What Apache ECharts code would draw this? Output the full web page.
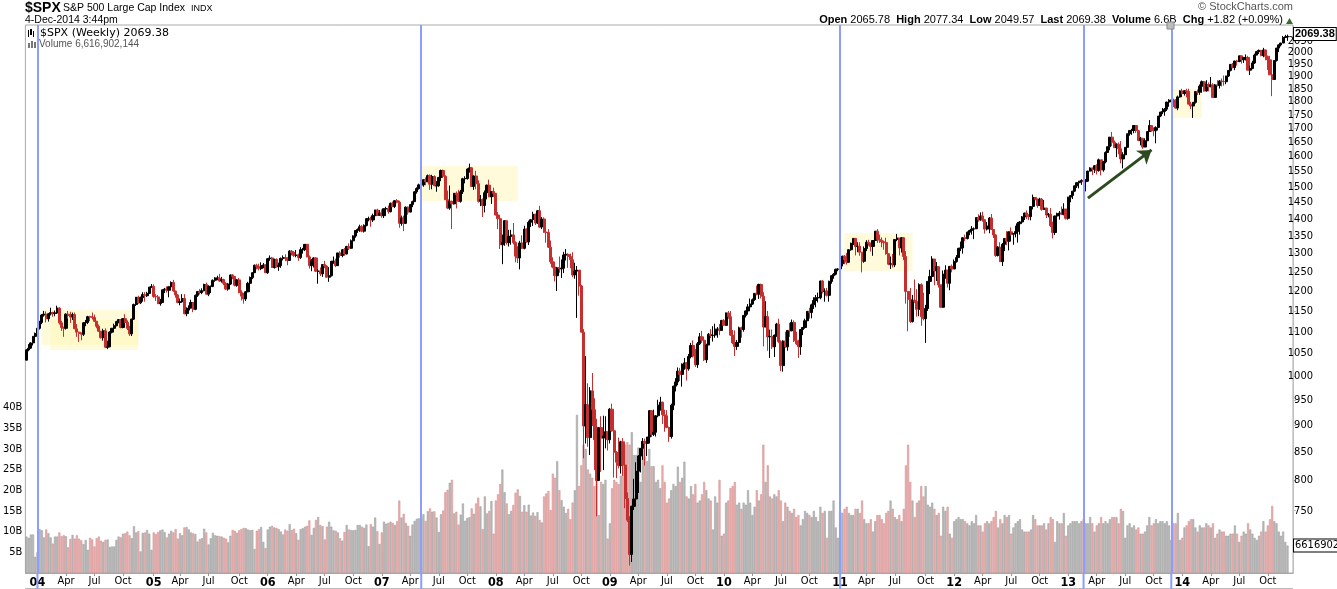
<!DOCTYPE html>
<html><head><meta charset="utf-8"><title>$SPX Weekly</title>
<script src="https://cdn.jsdelivr.net/npm/echarts@6/dist/echarts.min.js"></script>
<style>html,body{margin:0;padding:0;background:#fff;overflow:hidden}#chart{width:1337px;height:589px}</style>
</head><body><div id="chart"></div>
<script>
// ---------------- DATA (weekly, first week starts Monday 2003-11-24) ----------------
const firstWeekMonday = '2003-11-24';

const openP = [
1035,1058,1062,1074,1089,
1096,1108,1122,1140,1142,1131,1143,1146,1144,1145,1157,1121,1110,1108,1142,1139,1135,1141,1107,1099,1096,1094,1121,1122,1136,1135,1134,1125,1113,1101,1086,1102,1064,1065,1099,1108,1114,1124,1129,1110,1131,1122,1108,1095,1130,1166,1184,1170,1183,1191,1188,1194,1210,
1212,1186,1185,1168,1171,1203,1205,1202,1211,1222,1200,1190,1171,1173,1181,1143,1152,1157,1171,1154,1189,1199,1196,1201,1217,1192,1212,1212,1228,1234,1234,1226,1230,1220,1205,1218,1242,1238,1215,1229,1196,1187,1180,1198,1220,1235,1248,1268,1265,1259,1267,1269,
1248,1286,1288,1262,1284,1264,1267,1287,1289,1287,1281,1307,1303,1295,1296,1289,1311,1311,1326,1291,1267,1280,1288,1252,1252,1245,1270,1266,1236,1240,1279,1279,1267,1302,1295,1311,1299,1320,1315,1336,1350,1366,1369,1377,1364,1381,1401,1401,1397,1410,1427,1411,
1418,1410,1431,1431,1422,1448,1438,1456,1451,1387,1403,1387,1436,1421,1444,1453,1484,1494,1506,1506,1523,1516,1536,1508,1533,1503,1503,1530,1553,1534,1459,1433,1454,1446,1479,1474,1454,1484,1526,1527,1558,1562,1501,1535,1510,1454,1459,1441,1481,1505,1468,1485,
1479,1412,1401,1325,1331,1395,1331,1349,1353,1331,1293,1288,1330,1315,1370,1333,1390,1398,1414,1388,1425,1376,1400,1361,1360,1318,1278,1263,1240,1261,1258,1260,1296,1298,1292,1283,1242,1252,1255,1213,1099,899,941,877,969,931,873,800,896,876,880,888,
873,932,890,850,832,826,869,827,770,735,683,757,769,816,843,857,870,866,878,929,883,887,919,940,946,921,919,896,879,940,979,988,1011,1004,1026,1029,1016,1043,1068,1044,1025,1072,1088,1080,1036,1069,1094,1091,1092,1106,1106,1103,
1127,1115,1145,1136,1092,1074,1066,1075,1109,1105,1139,1150,1160,1167,1178,1194,1192,1217,1187,1111,1136,1088,1089,1065,1092,1118,1077,1023,1078,1065,1103,1102,1122,1079,1072,1065,1105,1110,1126,1149,1146,1165,1176,1183,1183,1226,1199,1200,1189,1225,1240,1244,1257,
1258,1272,1293,1283,1276,1311,1329,1343,1320,1321,1304,1279,1314,1332,1328,1320,1337,1364,1340,1338,1333,1331,1300,1271,1272,1269,1340,1344,1316,1345,1292,1199,1179,1124,1177,1174,1154,1216,1136,1131,1156,1225,1238,1285,1253,1264,1216,1159,1244,1255,1220,1265,
1258,1278,1289,1315,1316,1345,1343,1361,1366,1370,1371,1404,1397,1409,1398,1370,1379,1403,1369,1353,1295,1318,1278,1326,1343,1335,1362,1355,1357,1363,1386,1391,1406,1418,1411,1407,1438,1466,1460,1441,1461,1429,1433,1412,1414,1380,1360,1409,1416,1418,1414,1430,
1402,1467,1472,1486,1503,1513,1518,1520,1516,1518,1551,1561,1557,1569,1553,1589,1555,1582,1614,1634,1668,1650,1631,1643,1627,1592,1606,1632,1680,1692,1692,1710,1691,1656,1664,1633,1655,1688,1710,1692,1691,1703,1745,1760,1762,1771,1798,1805,1806,1805,1775,1818,
1841,1831,1842,1839,1790,1783,1797,1839,1836,1860,1878,1841,1867,1858,1865,1816,1865,1863,1881,1879,1878,1901,1924,1949,1936,1963,1961,1985,1968,1978,1978,1925,1932,1955,1988,2003,2008,1986,2010,1983,1968,1906,1887,1965,2018,2032,2040,2064,2068
];

const highP = [
1060,1071,1075,1090,1098,
1112,1126,1142,1150,1149,1145,1158,1148,1151,1163,1159,1126,1112,1144,1150,1148,1146,1146,1118,1100,1098,1123,1128,1138,1138,1146,1141,1125,1117,1102,1107,1108,1079,1101,1109,1119,1126,1130,1130,1132,1142,1127,1114,1131,1168,1185,1188,1186,1197,1197,1198,1211,1218,
1217,1192,1190,1180,1204,1208,1212,1212,1225,1229,1201,1192,1181,1192,1192,1159,1164,1178,1172,1191,1200,1205,1207,1219,1222,1215,1214,1230,1236,1240,1245,1237,1232,1223,1220,1243,1244,1239,1231,1234,1202,1195,1200,1224,1238,1250,1270,1272,1272,1276,1274,1271,
1287,1295,1291,1286,1287,1275,1289,1295,1298,1290,1310,1310,1307,1310,1300,1318,1316,1327,1326,1295,1285,1290,1290,1258,1262,1271,1280,1268,1263,1280,1292,1286,1302,1307,1312,1316,1322,1329,1340,1352,1367,1372,1383,1382,1384,1403,1407,1407,1416,1428,1431,1427,
1429,1432,1437,1441,1450,1453,1457,1461,1456,1410,1410,1438,1438,1446,1456,1485,1498,1510,1513,1523,1530,1540,1540,1539,1537,1518,1532,1556,1556,1537,1488,1504,1456,1480,1485,1490,1490,1529,1534,1560,1576,1564,1537,1552,1521,1474,1463,1488,1507,1523,1486,1497,
1472,1421,1406,1354,1396,1396,1368,1368,1388,1335,1321,1336,1352,1380,1372,1395,1400,1422,1416,1427,1440,1406,1405,1379,1370,1337,1290,1278,1263,1292,1284,1305,1313,1301,1300,1304,1275,1266,1255,1216,1106,1044,985,977,1007,954,913,896,918,919,918,880,
934,943,891,852,877,871,876,850,780,741,758,803,832,845,857,876,875,877,930,930,931,920,951,957,947,931,930,898,943,980,996,1019,1018,1028,1040,1031,1049,1074,1080,1060,1076,1097,1102,1085,1072,1097,1106,1113,1119,1111,1118,1128,
1130,1146,1150,1150,1104,1103,1081,1112,1112,1140,1151,1167,1181,1181,1195,1214,1219,1219,1197,1174,1150,1105,1105,1093,1121,1131,1080,1080,1100,1103,1121,1129,1127,1100,1081,1106,1111,1131,1149,1158,1168,1184,1190,1196,1227,1228,1207,1208,1227,1241,1247,1259,1260,
1278,1294,1296,1302,1312,1331,1344,1344,1332,1332,1305,1320,1338,1339,1331,1338,1364,1370,1354,1346,1337,1345,1300,1292,1299,1341,1356,1344,1347,1347,1307,1200,1208,1190,1230,1205,1220,1220,1196,1165,1225,1256,1293,1285,1277,1266,1216,1254,1268,1255,1265,1270,
1284,1296,1316,1334,1346,1354,1363,1368,1379,1375,1405,1414,1420,1422,1398,1391,1406,1415,1370,1355,1321,1332,1330,1343,1364,1363,1375,1358,1380,1391,1394,1409,1419,1426,1414,1438,1475,1466,1463,1465,1464,1458,1434,1418,1433,1392,1410,1419,1424,1438,1448,1430,
1468,1473,1486,1503,1514,1519,1524,1530,1525,1552,1564,1563,1570,1574,1593,1589,1585,1618,1635,1668,1687,1656,1646,1649,1654,1615,1632,1680,1693,1698,1710,1710,1694,1669,1664,1664,1688,1730,1711,1703,1707,1745,1760,1775,1775,1799,1809,1814,1811,1809,1823,1844,
1850,1844,1850,1850,1799,1798,1841,1847,1867,1883,1879,1884,1875,1897,1872,1869,1884,1885,1891,1903,1902,1924,1950,1955,1964,1968,1985,1986,1979,1991,1985,1943,1964,1994,2006,2012,2010,2019,2011,1986,1985,1912,1966,2019,2034,2041,2071,2076,2077.34
];

const lowP = [
1035,1055,1060,1068,1084,
1093,1105,1118,1136,1122,1124,1139,1136,1137,1143,1117,1102,1088,1105,1131,1121,1128,1106,1088,1076,1080,1090,1113,1118,1125,1129,1123,1108,1100,1084,1079,1062,1060,1064,1096,1101,1113,1120,1108,1108,1120,1104,1090,1090,1128,1162,1168,1167,1173,1173,1185,1193,1208,
1183,1175,1167,1163,1170,1195,1196,1184,1207,1198,1183,1169,1164,1172,1142,1137,1143,1156,1147,1152,1185,1191,1192,1199,1191,1187,1195,1210,1224,1228,1224,1222,1215,1203,1201,1216,1231,1212,1211,1194,1176,1168,1175,1197,1218,1231,1247,1257,1254,1255,1260,1247,
1245,1280,1261,1259,1262,1253,1261,1281,1279,1268,1280,1295,1291,1290,1280,1285,1300,1307,1290,1259,1252,1262,1250,1219,1239,1237,1260,1235,1224,1238,1272,1263,1266,1289,1290,1294,1298,1310,1313,1330,1345,1359,1362,1361,1360,1378,1393,1377,1391,1408,1410,1410,
1404,1403,1423,1416,1420,1436,1433,1448,1374,1380,1364,1385,1413,1420,1436,1452,1478,1491,1490,1500,1505,1515,1490,1492,1502,1484,1500,1518,1529,1458,1430,1428,1370,1444,1432,1452,1450,1477,1511,1523,1546,1500,1490,1492,1450,1439,1406,1420,1460,1467,1446,1467,
1411,1370,1313,1271,1322,1325,1320,1325,1326,1276,1274,1257,1313,1312,1331,1324,1376,1379,1382,1385,1373,1370,1359,1331,1316,1272,1260,1225,1200,1248,1234,1247,1281,1261,1260,1236,1232,1133,1188,1098,839,866,860,845,899,818,741,799,815,818,857,853,
866,888,805,804,821,812,808,754,732,667,672,751,764,779,814,836,826,843,866,878,880,879,916,929,903,888,895,869,875,930,968,981,990,978,1014,991,1012,1039,1041,1020,1018,1069,1074,1033,1029,1069,1085,1077,1086,1086,1092,1103,
1115,1114,1131,1090,1071,1044,1058,1075,1086,1100,1134,1141,1159,1165,1175,1189,1180,1181,1066,1111,1056,1040,1060,1042,1088,1074,1011,1010,1063,1056,1088,1101,1076,1069,1040,1047,1092,1107,1122,1131,1132,1155,1159,1171,1179,1194,1173,1186,1173,1219,1232,1241,1252,
1262,1265,1271,1270,1275,1308,1324,1295,1304,1294,1249,1275,1307,1322,1306,1294,1333,1330,1330,1318,1311,1297,1268,1258,1262,1263,1335,1295,1303,1282,1168,1101,1121,1122,1170,1136,1137,1114,1127,1074,1150,1192,1228,1215,1226,1209,1158,1158,1232,1209,1202,1249,
1258,1275,1290,1307,1300,1335,1340,1352,1354,1341,1370,1392,1395,1392,1357,1366,1358,1368,1344,1291,1292,1277,1266,1307,1324,1309,1351,1325,1346,1331,1354,1390,1397,1400,1397,1396,1429,1457,1434,1441,1425,1428,1403,1405,1376,1343,1353,1385,1398,1412,1411,1398,
1398,1451,1461,1484,1496,1495,1506,1486,1485,1516,1550,1538,1545,1540,1549,1537,1549,1577,1614,1622,1636,1630,1598,1608,1577,1560,1601,1632,1673,1676,1682,1683,1654,1639,1627,1633,1654,1688,1687,1671,1646,1692,1741,1752,1746,1764,1780,1798,1779,1773,1767,1815,
1828,1823,1816,1790,1771,1738,1792,1825,1826,1834,1839,1839,1840,1856,1814,1815,1859,1851,1859,1862,1868,1897,1920,1932,1925,1944,1958,1952,1955,1965,1925,1905,1929,1951,1990,1993,1983,1979,1966,1926,1906,1821,1886,1961,2001,2025,2040,2064,2049.57
];

const closeP = [
1058,1062,1074,1089,1096,
1108,1122,1140,1142,1131,1143,1146,1144,1145,1157,1121,1110,1108,1142,1139,1135,1141,1107,1099,1096,1094,1121,1122,1136,1135,1134,1125,1113,1101,1086,1102,1064,1065,1099,1108,1114,1124,1129,1110,1131,1122,1108,1095,1130,1166,1184,1170,1183,1191,1188,1194,1210,1212,
1186,1185,1168,1171,1203,1205,1202,1211,1222,1200,1190,1171,1173,1181,1143,1152,1157,1171,1154,1189,1199,1196,1201,1217,1192,1212,1212,1228,1234,1234,1226,1230,1220,1205,1218,1242,1238,1215,1229,1196,1187,1180,1198,1220,1235,1248,1268,1265,1259,1267,1269,1248,
1286,1288,1262,1284,1264,1267,1287,1289,1287,1281,1307,1303,1295,1296,1289,1311,1311,1326,1291,1267,1280,1288,1252,1252,1245,1270,1266,1236,1240,1279,1279,1267,1302,1295,1311,1299,1320,1315,1336,1350,1366,1369,1377,1364,1381,1401,1401,1397,1410,1427,1411,1418,
1410,1431,1431,1422,1448,1438,1456,1451,1387,1403,1387,1436,1421,1444,1453,1484,1494,1506,1506,1523,1516,1536,1508,1533,1503,1503,1530,1553,1534,1459,1433,1454,1446,1479,1474,1454,1484,1526,1527,1558,1562,1501,1535,1510,1454,1459,1441,1481,1505,1468,1485,1479,
1412,1401,1325,1331,1395,1331,1349,1353,1331,1293,1288,1330,1315,1370,1333,1390,1398,1414,1388,1425,1376,1400,1361,1360,1318,1278,1263,1240,1261,1258,1260,1296,1298,1292,1283,1242,1252,1255,1213,1099,899,941,877,969,931,873,800,896,876,880,888,873,
932,890,850,832,826,869,827,770,735,683,757,769,816,843,857,870,866,878,929,883,887,919,940,946,921,919,896,879,940,979,988,1011,1004,1026,1029,1016,1043,1068,1044,1025,1072,1088,1080,1036,1069,1094,1091,1092,1106,1106,1103,1127,
1115,1145,1136,1092,1074,1066,1075,1109,1105,1139,1150,1160,1167,1178,1194,1192,1217,1187,1111,1136,1088,1089,1065,1092,1118,1077,1023,1078,1065,1103,1102,1122,1079,1072,1065,1105,1110,1126,1149,1146,1165,1176,1183,1183,1226,1199,1200,1189,1225,1240,1244,1257,1258,
1272,1293,1283,1276,1311,1329,1343,1320,1321,1304,1279,1314,1332,1328,1320,1337,1364,1340,1338,1333,1331,1300,1271,1272,1269,1340,1344,1316,1345,1292,1199,1179,1124,1177,1174,1154,1216,1136,1131,1156,1225,1238,1285,1253,1264,1216,1159,1244,1255,1220,1265,1258,
1278,1289,1315,1316,1345,1343,1361,1366,1370,1371,1404,1397,1409,1398,1370,1379,1403,1369,1353,1295,1318,1278,1326,1343,1335,1362,1355,1357,1363,1386,1391,1406,1418,1411,1407,1438,1466,1460,1441,1461,1429,1433,1412,1414,1380,1360,1409,1416,1418,1414,1430,1402,
1467,1472,1486,1503,1513,1518,1520,1516,1518,1551,1561,1557,1569,1553,1589,1555,1582,1614,1634,1668,1650,1631,1643,1627,1592,1606,1632,1680,1692,1692,1710,1691,1656,1664,1633,1655,1688,1710,1692,1691,1703,1745,1760,1762,1771,1798,1805,1806,1805,1775,1818,1841,
1831,1842,1839,1790,1783,1797,1839,1836,1860,1878,1841,1867,1858,1865,1816,1865,1863,1881,1879,1878,1901,1924,1949,1936,1963,1961,1985,1968,1978,1978,1925,1932,1955,1988,2003,2008,1986,2010,1983,1968,1906,1887,1965,2018,2032,2040,2064,2068,2069.38
];

// weekly volume, billions of shares
const volumeB = [
8.8,8.5,9.3,9.3,3.9,
5.0,10.6,10.3,8.6,10.5,9.6,8.6,7.1,8.8,8.8,9.8,8.9,9.1,8.9,6.2,8.2,9.2,8.3,9.1,8.3,7.9,7.0,8.0,5.6,8.5,8.1,6.4,8.4,8.8,7.8,7.5,8.0,8.1,6.3,6.4,6.4,8.0,8.8,8.6,9.5,9.6,10.0,9.1,8.4,11.3,9.8,10.1,5.2,9.7,9.8,10.4,9.5,5.6,
9.8,9.4,9.9,10.3,10.5,9.9,8.6,9.5,10.2,9.8,10.6,8.3,9.6,9.1,11.0,11.1,10.5,9.8,9.6,9.4,7.6,8.2,8.4,10.7,9.8,6.9,8.4,9.7,9.1,9.0,8.9,8.8,8.5,8.3,7.4,9.0,10.4,10.2,9.7,10.3,10.6,10.9,10.8,10.5,10.3,10.4,5.8,10.2,10.6,11.1,7.5,6.0,
10.5,11.2,11.4,11.0,10.9,10.6,10.0,9.3,10.5,10.2,11.8,10.4,10.7,9.6,8.0,10.6,10.8,11.2,11.4,12.7,9.2,10.9,12.8,13.5,11.6,11.3,8.1,11.2,12.4,11.2,10.3,10.2,9.8,8.4,7.8,9.9,11.6,10.5,10.4,10.3,10.4,11.6,11.6,11.2,10.9,11.7,6.5,11.8,11.2,13.4,10.1,7.0,
9.8,12.4,11.9,12.1,12.4,12.1,11.6,12.5,17.5,13.4,14.3,12.1,11.4,9.0,11.7,12.6,13.1,13.2,13.6,14.2,12.6,14.9,15.6,14.8,14.9,13.4,9.9,14.2,15.1,19.5,20.1,21.8,22.5,14.4,14.8,11.7,14.1,16.8,12.6,13.3,13.5,15.6,14.3,16.8,18.2,16.1,10.6,18.5,14.4,15.0,17.4,9.5,
17.5,19.0,21.5,25.0,19.5,16.8,14.2,15.0,16.4,19.4,20.2,18.6,14.8,16.4,14.8,16.5,13.9,14.6,13.8,14.7,12.8,12.2,18.5,19.2,19.8,15.2,24.0,23.0,27.0,20.0,17.6,16.0,14.5,15.5,13.0,17.0,20.0,38.2,21.0,26.0,31.0,30.0,25.0,24.0,23.0,21.0,27.5,14.0,22.0,21.5,22.5,8.3,
12.0,20.5,22.5,22.0,21.5,23.5,28.0,31.0,31.6,31.0,34.0,28.5,28.5,30.3,22.0,30.0,28.0,27.0,30.0,25.8,25.8,22.0,22.5,20.5,26.0,22.0,17.0,18.0,20.0,21.5,21.0,25.7,22.0,23.0,26.9,18.5,18.0,21.0,19.0,21.5,17.0,17.5,19.0,22.0,20.0,18.0,17.5,10.5,18.5,17.0,22.5,9.0,
9.5,17.0,17.5,20.5,21.0,22.0,16.5,17.0,15.5,17.0,16.5,20.0,17.0,14.0,16.0,20.0,17.5,19.0,31.0,22.0,26.0,18.5,18.0,19.0,18.5,20.0,17.5,12.5,17.0,16.0,15.0,14.5,15.5,13.5,14.0,11.5,13.0,15.0,14.5,14.0,13.5,15.0,13.5,12.5,16.0,14.5,15.0,8.5,15.0,15.0,17.5,11.0,8.5,
15.0,14.5,15.5,16.0,14.5,14.0,14.0,15.5,15.5,14.5,17.5,13.0,12.0,12.0,13.0,10.0,12.5,14.0,14.0,13.0,12.0,14.5,15.0,17.5,15.5,13.5,13.0,14.0,12.5,15.5,26.0,31.0,22.0,17.5,13.5,17.0,17.5,21.0,18.5,21.0,16.5,16.0,17.0,15.5,14.0,14.5,9.0,16.0,15.0,16.0,9.5,8.5,
12.5,13.0,13.5,13.0,13.0,12.5,12.0,11.5,12.5,12.0,14.0,11.5,11.5,10.0,12.0,12.5,12.0,12.5,13.5,15.0,11.0,13.0,12.0,14.0,13.5,14.0,9.5,11.0,12.0,12.5,13.0,10.5,10.0,10.0,10.0,10.5,14.0,13.0,11.5,11.5,11.5,12.0,10.5,12.0,13.5,13.0,7.5,12.5,12.0,12.0,14.5,9.0,
11.5,12.0,12.5,12.5,12.5,12.0,12.5,13.0,12.0,12.0,13.5,12.0,10.0,11.5,12.0,13.5,12.0,12.5,12.0,13.0,13.5,13.5,13.5,12.0,15.5,15.0,8.5,11.5,12.0,11.0,11.5,10.5,11.0,9.5,9.5,10.0,11.5,13.5,11.5,12.0,13.0,12.0,12.5,12.5,12.0,12.5,11.5,8.0,12.0,12.0,14.5,8.0,
8.5,11.0,11.5,12.5,13.0,13.0,11.0,10.0,11.5,11.0,11.0,12.0,11.5,11.0,12.0,8.5,9.5,10.5,10.0,10.0,9.0,9.0,9.5,9.5,11.5,9.5,7.5,9.0,10.0,9.5,12.0,10.5,9.5,8.5,8.0,9.0,10.0,12.5,10.0,11.5,13.0,16.2,12.5,12.0,10.0,9.0,10.0,7.5,6.62
];

// axis tick labels
const priceTicks = [750,800,850,900,950,1000,1050,1100,1150,1200,1250,1300,1350,1400,1450,1500,1550,1600,1650,1700,1750,1800,1850,1900,1950,2000,2050];
const volumeTicks = [5,10,15,20,25,30,35,40];

// annotations (week-ending dates, prices)
const blueLineDates = ['2004-01-02','2007-05-11','2011-01-07','2013-02-22','2013-11-29'];
const boxes = [
  {from:'2004-01-16', to:'2004-11-19', hi:1152, lo:1069},
  {from:'2004-02-13', to:'2004-11-19', hi:1128, lo:1058},
  {from:'2007-05-11', to:'2008-03-14', hi:1568, lo:1455},
  {from:'2011-01-21', to:'2011-08-26', hi:1359, lo:1253},
  {from:'2013-11-29', to:'2014-03-07', hi:1849, lo:1738}
];
const arrowLine = {from:['2013-03-08',1464], to:['2013-09-27',1623]};
const lastPrice = 2069.38, lastVolume = 6616902144;

// ---------------- CHART ----------------
const NARROW = "'Liberation Sans Narrow','DejaVu Sans Condensed','Liberation Sans',sans-serif";
const SANS = "'Liberation Sans',Arial,sans-serif";
const DAY = 864e5;
const t0 = Date.parse(firstWeekMonday + 'T00:00:00Z');
const cats = [], fridays = [];
for (let i = 0; i < closeP.length + 2; i++) {
  const d = new Date(t0 + (i * 7 + 4) * DAY);
  fridays.push(d); cats.push(d.toISOString().slice(0, 10));
}
const MONTHS = ['Jan','Feb','Mar','Apr','May','Jun','Jul','Aug','Sep','Oct','Nov','Dec'];
const labelText = {};
for (let i = 1; i < cats.length; i++) {
  const m = fridays[i].getUTCMonth();
  if (m !== fridays[i - 1].getUTCMonth() && m % 3 === 0) {
    labelText[i] = m === 0 ? '{y|' + String(fridays[i].getUTCFullYear()).slice(2) + '}' : MONTHS[m];
  }
}
const isLabel = (i) => labelText[i] !== undefined;
const L = Math.log;

const VOL_MAX = 132.4, P_MIN = 656.4, P_MAX = 2120.3;

const candleData = closeP.map((c, i) => [L(openP[i]), L(c), L(lowP[i]), L(highP[i])]);
const volData = volumeB.map((v, i) => {
  const prev = i ? closeP[i - 1] : openP[0];
  const down = closeP[i] < prev;
  return {value: v, itemStyle: down ? {color: '#e9b3b3', borderColor: '#d08484', borderWidth: 0.5}
                                    : {color: '#bdbdbd', borderColor: '#959595', borderWidth: 0.5}};
});

const chart = echarts.init(document.getElementById('chart'), null, {renderer: 'canvas'});
const graphics = [
  {type:'text', left:25, top:1, style:{text:'$SPX', font:'bold 14px ' + SANS, fill:'#000'}},
  {type:'text', left:63, top:3, style:{text:'S&P 500 Large Cap Index', font:'10.5px ' + SANS, fill:'#000'}},
  {type:'text', left:191, top:4, style:{text:'INDX', font:'9px ' + SANS, fill:'#000'}},
  {type:'text', left:25, top:15, style:{text:'4-Dec-2014 3:44pm', font:'10.5px ' + SANS, fill:'#000'}},
  {type:'text', right:44, top:1, style:{text:'\u00a9 StockCharts.com', font:'11px ' + SANS, fill:'#555'}},
  {type:'text', right:54, top:14, style:{
     text:'{b|Open} 2065.78  {b|High} 2077.34  {b|Low} 2049.57  {b|Last} 2069.38  {b|Volume} 6.6B  {b|Chg} +1.82 (+0.09%)',
     font:'11px ' + SANS, fill:'#000', rich:{b:{fontWeight:'bold', fontSize:11, fontFamily:SANS, fill:'#000'}}}},
  {type:'polygon', shape:{points:[[1286,24],[1293,24],[1289.5,18]]}, style:{fill:'#3d6b2d'}},
  {type:'rect', shape:{x:1167, y:22, width:7, height:7}, style:{fill:'#bdbdbd', stroke:'#888', lineWidth:1}, z:100},
  // legend icons
  {type:'rect', shape:{x:28, y:30, width:1, height:7}, style:{fill:'#000'}},
  {type:'rect', shape:{x:30, y:29, width:2, height:6}, style:{fill:'#000'}},
  {type:'rect', shape:{x:33, y:31, width:1, height:6}, style:{fill:'#000'}},
  {type:'rect', shape:{x:28, y:43, width:2, height:5}, style:{fill:'#777'}},
  {type:'rect', shape:{x:31, y:41, width:2, height:7}, style:{fill:'#777'}},
  {type:'rect', shape:{x:34, y:42, width:2, height:6}, style:{fill:'#777'}},
  {type:'text', left:40, top:28, style:{text:'$SPX (Weekly) 2069.38', font:'11px "DejaVu Sans",sans-serif', fill:'#000'}},
  {type:'text', left:39, top:39, style:{text:'Volume 6,616,902,144', font:'10px ' + SANS, fill:'#555'}},
  {type:'line', shape:{x1:25, y1:588.5, x2:1293, y2:588.5}, style:{stroke:'#bbb', lineWidth:1}}
];
const lens = [openP.length, highP.length, lowP.length, closeP.length, volumeB.length];
if (new Set(lens).size !== 1) {
  graphics.push({type:'text', left:500, top:200, z:200, style:{text:'LENGTH MISMATCH ' + lens.join(','), font:'bold 24px sans-serif', fill:'red'}});
}

const endLabel = (text, bold) => ({
  show:true, position:'end', distance:1, formatter:() => text,
  fontSize:11, fontWeight: bold ? 'bold' : 'normal', fontFamily: bold ? SANS : NARROW,
  color:'#000', backgroundColor:'#fff', borderColor:'#000', borderWidth:1, padding:[1,1,0,1]
});

chart.setOption({
  animation: false,
  backgroundColor: '#fff',
  grid: {left:25, right:44, top:25, bottom:16, show:true, borderColor:'#aaa', borderWidth:1, containLabel:false},
  xAxis: {
    type:'category', data:cats, boundaryGap:true,
    axisLine:{show:true, lineStyle:{color:'#aaa'}},
    axisTick:{show:true, alignWithLabel:true, interval:isLabel, length:3, lineStyle:{color:'#999'}},
    axisLabel:{interval:isLabel, formatter:(v, i) => labelText[i] || '', margin:3, fontSize:11, color:'#000', fontFamily:NARROW,
      rich:{y:{fontWeight:'bold', fontSize:12.5, fontFamily:NARROW, color:'#000'}}},
    splitLine:{show:false}
  },
  yAxis: [
    {type:'value', position:'left', min:0, max:VOL_MAX, splitLine:{show:false}, axisLine:{show:false}, axisTick:{show:false},
     axisLabel:{customValues:volumeTicks, formatter:(v) => v + 'B', margin:3, fontSize:11, color:'#000', fontFamily:NARROW}},
    {type:'value', position:'right', min:L(P_MIN), max:L(P_MAX), splitLine:{show:false},
     axisLine:{show:true, lineStyle:{color:'#bbb', type:'dotted'}},
     axisTick:{show:true, customValues:priceTicks.map(p => L(p)), length:3, lineStyle:{color:'#bbb'}},
     axisLabel:{customValues:priceTicks.map(p => L(p)), formatter:(v) => String(Math.round(Math.exp(v))),
       align:'right', margin:20, fontSize:11, color:'#000', fontFamily:NARROW}}
  ],
  series: [
    {type:'bar', name:'Volume', xAxisIndex:0, yAxisIndex:0, barWidth:2, z:1, data:volData, silent:true},
    {type:'candlestick', name:'$SPX', xAxisIndex:0, yAxisIndex:1, barWidth:2.6, z:2, data:candleData, silent:true,
     itemStyle:{color:'#000', color0:'#c62f2f', borderColor:'#000', borderColor0:'#c62f2f', borderWidth:1}},
    {type:'line', name:'boxes', xAxisIndex:0, yAxisIndex:1, data:[], z:5, silent:true,
     markArea:{silent:true, itemStyle:{color:'rgba(255,246,185,0.55)'},
       data: boxes.map(b => [{coord:[b.from, L(b.hi)]}, {coord:[b.to, L(b.lo)]}])},
     markLine:{silent:true, symbol:'none', label:{show:false}, lineStyle:{color:'#8c9cff', width:2, type:'solid'},
       data: blueLineDates.map(d => ({xAxis:d}))}},
    {type:'line', name:'arrow', xAxisIndex:0, yAxisIndex:1, data:[], z:6, silent:true,
     markLine:{silent:true, symbol:['none','arrow'], symbolSize:13, label:{show:false},
       lineStyle:{color:'#2c4a1e', width:3, type:'solid'},
       data:[[{coord:[arrowLine.from[0], L(arrowLine.from[1])]}, {coord:[arrowLine.to[0], L(arrowLine.to[1])]}]]}},
    // last-value tags at the right edge
    {type:'line', name:'lastPrice', xAxisIndex:0, yAxisIndex:1, data:[], z:20, silent:true,
     markLine:{silent:true, symbol:'none', lineStyle:{color:'rgba(0,0,0,0)', width:0},
       data:[{yAxis:L(lastPrice), label:endLabel(lastPrice.toFixed(2), true)}]}},
    {type:'line', name:'lastVolume', xAxisIndex:0, yAxisIndex:0, data:[], z:20, silent:true,
     markLine:{silent:true, symbol:'none', lineStyle:{color:'rgba(0,0,0,0)', width:0},
       data:[{yAxis:lastVolume / 1e9, label:endLabel(String(lastVolume).slice(0, 7), false)}]}}
  ],
  graphic: graphics
});

// extend the blue marker lines through the date-label strip
const ext = blueLineDates.map(d => {
  const x = chart.convertToPixel({xAxisIndex:0}, d);
  return {type:'line', shape:{x1:x, y1:573, x2:x, y2:589}, style:{stroke:'#8c9cff', lineWidth:2}, z:50};
});
chart.setOption({graphic: graphics.concat(ext)});
</script>
</body></html>
